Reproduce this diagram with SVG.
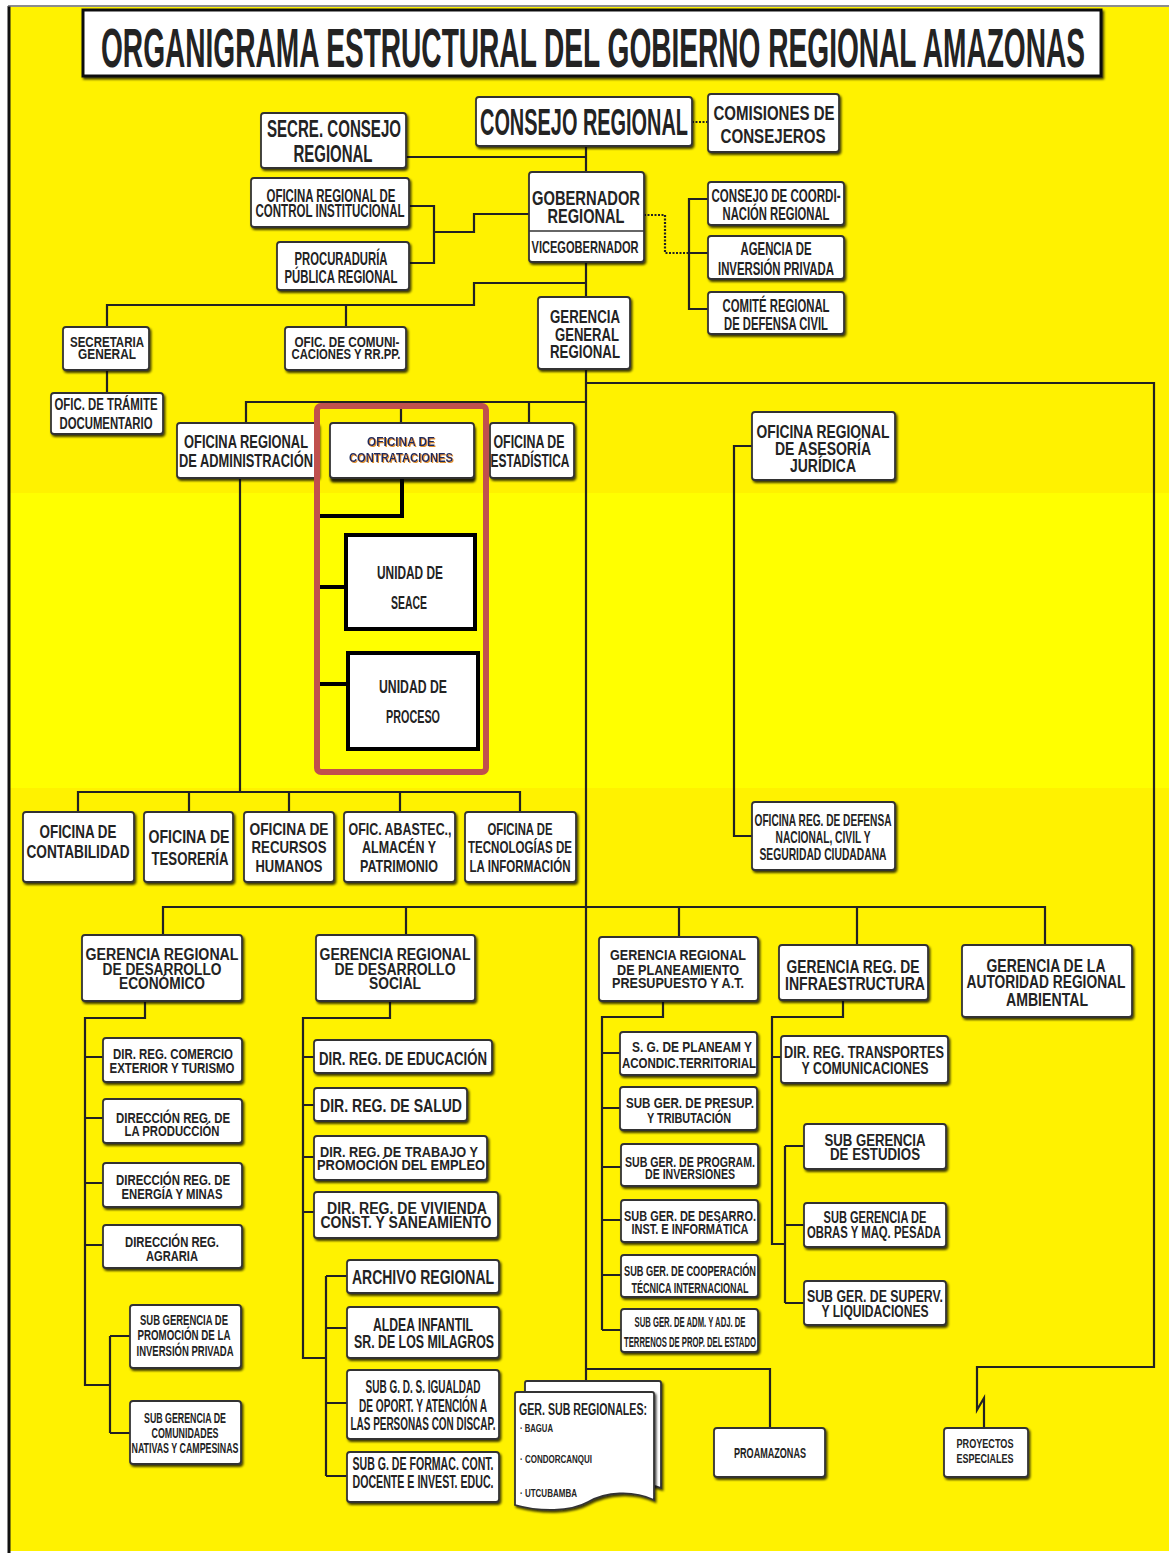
<svg xmlns="http://www.w3.org/2000/svg" width="1169" height="1553" viewBox="0 0 1169 1553">
<defs>
<filter id="sh" x="-10%" y="-10%" width="125%" height="130%"><feDropShadow dx="1.5" dy="2" stdDeviation="0.8" flood-color="#000" flood-opacity="0.75"/></filter>
<filter id="sh2" x="-10%" y="-10%" width="125%" height="140%"><feDropShadow dx="1" dy="3.5" stdDeviation="0.8" flood-color="#000" flood-opacity="0.85"/></filter>
<filter id="osh" x="-10%" y="-30%" width="120%" height="160%"><feDropShadow dx="1" dy="1" stdDeviation="0.3" flood-color="#e0902a" flood-opacity="1"/></filter>
</defs>
<style>
.b{fill:#fff;stroke:#333;stroke-width:1.8;filter:url(#sh)}
.t{font-family:'Liberation Sans Narrow','Liberation Sans',Arial,sans-serif;font-weight:bold;fill:#232323;text-anchor:middle}
.l{text-anchor:start}
.c{fill:none;stroke:#222;stroke-width:2.2}
.d{fill:none;stroke:#222;stroke-width:2.2;stroke-dasharray:2 1.5}
.k{fill:none;stroke:#000;stroke-width:4}
.u{fill:#fff;stroke:#000;stroke-width:4}
.ct{font-family:'Liberation Sans Narrow','Liberation Sans',Arial,sans-serif;font-weight:bold;fill:#1f2b5c;text-anchor:middle;filter:url(#osh)}
</style>
<rect x="0" y="0" width="1169" height="1553" fill="#fff"/>
<rect x="10" y="7" width="1159" height="1544" fill="#fff200"/>
<rect x="10" y="493" width="1159" height="295" fill="#ffff00"/>
<line x1="9" y1="6" x2="9" y2="1553" stroke="#111" stroke-width="3"/>
<line x1="8" y1="6" x2="1169" y2="6" stroke="#666" stroke-width="1.5"/>

<g id="connectors">
<path class="c" d="M586,146V172M406,157H586"/>
<path class="d" d="M692,122H708"/>
<path class="c" d="M409,206H434V263H409M434,232H474V214H529"/>
<path class="d" d="M644,215H665V253H689"/>
<path class="c" d="M708,199H689V309H708M689,253H708"/>
<path class="c" d="M586,262V297M586,283H474V305H107V327M346,305V327M107,370V393"/>
<path class="c" d="M586,369V1381M586,383H1154V1367H977V1410L984,1398V1428"/>
<path class="c" d="M246,423V402H586M401,402V423M529,402V423"/>
<path class="c" d="M240,478V792M78,812V792H520V812M189,792V812M289,792V812M400,792V812"/>
<path class="c" d="M752,446H734V836H752"/>
<path class="c" d="M163,935V907H1045V945M406,907V935M679,907V937M857,907V945"/>
<path class="c" d="M145,1001V1018H85V1385H110M110,1336V1433M110,1336H130M110,1433H130M85,1057H103M85,1118H103M85,1183H103M85,1245H103"/>
<path class="c" d="M390,1001V1018H303V1358H326M326,1276V1476M303,1057H314M303,1105H314M303,1157H314M303,1212H314M326,1276H347M326,1328H347M326,1403H347M326,1476H347"/>
<path class="c" d="M663,1001V1017H602V1330M602,1053H620M602,1108H620M602,1167H621M602,1220H621M602,1275H621M602,1330H621"/>
<path class="c" d="M843,1000V1017H772V1244H785M785,1146V1303M772,1057H781M785,1146H804M785,1225H804M785,1303H804"/>
<path class="c" d="M586,1369H770V1428"/>
<path class="k" d="M402,478V516H320M320,587H346M320,684H348"/>
</g>

<g id="title"><rect x="83" y="10" width="1018" height="66" fill="#fff" stroke="#111" stroke-width="3" filter="url(#sh)"/>
<text class="t" x="593" y="67" font-size="56" textLength="984" lengthAdjust="spacingAndGlyphs" fill="#111">ORGANIGRAMA ESTRUCTURAL DEL GOBIERNO REGIONAL AMAZONAS</text></g>

<g id="consejo"><rect class="b" x="476" y="97" width="216" height="49" rx="3"/>
<text class="t" x="584" y="135" font-size="37" textLength="208" lengthAdjust="spacingAndGlyphs">CONSEJO REGIONAL</text></g>
<g id="comisiones"><rect class="b" x="708" y="94" width="131" height="58" rx="3"/>
<text class="t" x="774" y="120" font-size="20" textLength="121" lengthAdjust="spacingAndGlyphs">COMISIONES DE</text>
<text class="t" x="773" y="143" font-size="20" textLength="105" lengthAdjust="spacingAndGlyphs">CONSEJEROS</text></g>
<g id="secre"><rect class="b" x="261" y="113" width="145" height="55" rx="3"/>
<text class="t" x="334" y="137" font-size="23" textLength="134" lengthAdjust="spacingAndGlyphs">SECRE. CONSEJO</text>
<text class="t" x="333" y="162" font-size="23" textLength="79" lengthAdjust="spacingAndGlyphs">REGIONAL</text></g>
<g id="control"><rect class="b" x="251" y="178" width="158" height="49" rx="3"/>
<text class="t" x="331" y="202" font-size="18" textLength="129" lengthAdjust="spacingAndGlyphs">OFICINA REGIONAL DE</text>
<text class="t" x="330" y="217" font-size="18" textLength="149" lengthAdjust="spacingAndGlyphs">CONTROL INSTITUCIONAL</text></g>
<g id="procuraduria"><rect class="b" x="277" y="242" width="132" height="48" rx="3"/>
<text class="t" x="341" y="265" font-size="18" textLength="93" lengthAdjust="spacingAndGlyphs">PROCURADURÍA</text>
<text class="t" x="341" y="283" font-size="18" textLength="113" lengthAdjust="spacingAndGlyphs">PÚBLICA REGIONAL</text></g>
<g id="gobernador"><rect class="b" x="529" y="172" width="115" height="90" rx="3"/>
<line x1="529" y1="231" x2="644" y2="231" stroke="#333" stroke-width="1.5"/>
<text class="t" x="586" y="205" font-size="21" textLength="108" lengthAdjust="spacingAndGlyphs">GOBERNADOR</text>
<text class="t" x="586" y="223" font-size="21" textLength="77" lengthAdjust="spacingAndGlyphs">REGIONAL</text>
<text class="t" x="585" y="253" font-size="17" textLength="107" lengthAdjust="spacingAndGlyphs">VICEGOBERNADOR</text></g>
<g id="coordinacion"><rect class="b" x="708" y="182" width="136" height="43" rx="3"/>
<text class="t" x="776" y="202" font-size="18" textLength="129" lengthAdjust="spacingAndGlyphs">CONSEJO DE COORDI-</text>
<text class="t" x="776" y="220" font-size="18" textLength="107" lengthAdjust="spacingAndGlyphs">NACIÓN REGIONAL</text></g>
<g id="agencia"><rect class="b" x="708" y="236" width="136" height="43" rx="3"/>
<text class="t" x="776" y="255" font-size="18" textLength="71" lengthAdjust="spacingAndGlyphs">AGENCIA DE</text>
<text class="t" x="776" y="275" font-size="18" textLength="116" lengthAdjust="spacingAndGlyphs">INVERSIÓN PRIVADA</text></g>
<g id="comite"><rect class="b" x="708" y="292" width="136" height="42" rx="3"/>
<text class="t" x="776" y="312" font-size="18" textLength="107" lengthAdjust="spacingAndGlyphs">COMITÉ REGIONAL</text>
<text class="t" x="776" y="330" font-size="18" textLength="104" lengthAdjust="spacingAndGlyphs">DE DEFENSA CIVIL</text></g>
<g id="gerencia-general"><rect class="b" x="538" y="297" width="92" height="72" rx="3"/>
<text class="t" x="585" y="323" font-size="18" textLength="70" lengthAdjust="spacingAndGlyphs">GERENCIA</text>
<text class="t" x="587" y="341" font-size="18" textLength="64" lengthAdjust="spacingAndGlyphs">GENERAL</text>
<text class="t" x="585" y="358" font-size="18" textLength="70" lengthAdjust="spacingAndGlyphs">REGIONAL</text></g>
<g id="secretaria-general"><rect class="b" x="63" y="327" width="86" height="43" rx="3"/>
<text class="t" x="107" y="347" font-size="14" textLength="74" lengthAdjust="spacingAndGlyphs">SECRETARIA</text>
<text class="t" x="107" y="359" font-size="14" textLength="58" lengthAdjust="spacingAndGlyphs">GENERAL</text></g>
<g id="comunicaciones"><rect class="b" x="285" y="327" width="121" height="43" rx="3"/>
<text class="t" x="347" y="347" font-size="14" textLength="105" lengthAdjust="spacingAndGlyphs">OFIC. DE COMUNI-</text>
<text class="t" x="346" y="359" font-size="14" textLength="109" lengthAdjust="spacingAndGlyphs">CACIONES Y RR.PP.</text></g>
<g id="tramite"><rect class="b" x="51" y="393" width="112" height="41" rx="3"/>
<text class="t" x="106" y="410" font-size="16" textLength="103" lengthAdjust="spacingAndGlyphs">OFIC. DE TRÁMITE</text>
<text class="t" x="106" y="429" font-size="16" textLength="93" lengthAdjust="spacingAndGlyphs">DOCUMENTARIO</text></g>
<g id="administracion"><rect class="b" x="177" y="423" width="141" height="55" rx="3"/>
<text class="t" x="246" y="448" font-size="19" textLength="124" lengthAdjust="spacingAndGlyphs">OFICINA REGIONAL</text>
<text class="t" x="246" y="467" font-size="19" textLength="134" lengthAdjust="spacingAndGlyphs">DE ADMINISTRACIÓN</text></g>
<g id="contrataciones"><rect x="330" y="423" width="144" height="55" rx="3" fill="#fff" stroke="#333" stroke-width="1.8" filter="url(#sh2)"/>
<text class="ct" x="401" y="446" font-size="12" textLength="68" lengthAdjust="spacingAndGlyphs">OFICINA DE</text>
<text class="ct" x="401" y="462" font-size="12" textLength="104" lengthAdjust="spacingAndGlyphs">CONTRATACIONES</text></g>
<g id="estadistica"><rect class="b" x="490" y="423" width="84" height="55" rx="3"/>
<text class="t" x="529" y="448" font-size="19" textLength="71" lengthAdjust="spacingAndGlyphs">OFICINA DE</text>
<text class="t" x="530" y="467" font-size="19" textLength="79" lengthAdjust="spacingAndGlyphs">ESTADÍSTICA</text></g>
<g id="marco-contrataciones"><rect x="317" y="406" width="169" height="366" rx="4" fill="none" stroke="#c0504d" stroke-width="6"/></g>
<g id="seace"><rect class="u" x="346" y="535" width="129" height="94"/>
<text class="t" x="410" y="579" font-size="19" textLength="66" lengthAdjust="spacingAndGlyphs">UNIDAD DE</text>
<text class="t" x="409" y="609" font-size="19" textLength="36" lengthAdjust="spacingAndGlyphs">SEACE</text></g>
<g id="proceso"><rect class="u" x="348" y="653" width="130" height="96"/>
<text class="t" x="413" y="693" font-size="19" textLength="68" lengthAdjust="spacingAndGlyphs">UNIDAD  DE</text>
<text class="t" x="413" y="723" font-size="19" textLength="54" lengthAdjust="spacingAndGlyphs">PROCESO</text></g>
<g id="juridica"><rect class="b" x="752" y="412" width="143" height="68" rx="3"/>
<text class="t" x="823" y="438" font-size="19" textLength="133" lengthAdjust="spacingAndGlyphs">OFICINA REGIONAL</text>
<text class="t" x="823" y="455" font-size="19" textLength="96" lengthAdjust="spacingAndGlyphs">DE ASESORÍA</text>
<text class="t" x="823" y="472" font-size="19" textLength="66" lengthAdjust="spacingAndGlyphs">JURÍDICA</text></g>
<g id="defensa"><rect class="b" x="752" y="802" width="143" height="68" rx="3"/>
<text class="t" x="823" y="826" font-size="17" textLength="137" lengthAdjust="spacingAndGlyphs">OFICINA REG. DE DEFENSA</text>
<text class="t" x="823" y="843" font-size="17" textLength="95" lengthAdjust="spacingAndGlyphs">NACIONAL, CIVIL Y</text>
<text class="t" x="823" y="860" font-size="17" textLength="127" lengthAdjust="spacingAndGlyphs">SEGURIDAD CIUDADANA</text></g>
<g id="contabilidad"><rect class="b" x="23" y="812" width="111" height="70" rx="3"/>
<text class="t" x="78" y="838" font-size="19" textLength="77" lengthAdjust="spacingAndGlyphs">OFICINA DE</text>
<text class="t" x="78" y="858" font-size="19" textLength="103" lengthAdjust="spacingAndGlyphs">CONTABILIDAD</text></g>
<g id="tesoreria"><rect class="b" x="144" y="812" width="89" height="70" rx="3"/>
<text class="t" x="189" y="843" font-size="19" textLength="81" lengthAdjust="spacingAndGlyphs">OFICINA DE</text>
<text class="t" x="190" y="865" font-size="19" textLength="77" lengthAdjust="spacingAndGlyphs">TESORERÍA</text></g>
<g id="rrhh"><rect class="b" x="244" y="812" width="90" height="70" rx="3"/>
<text class="t" x="289" y="835" font-size="17" textLength="79" lengthAdjust="spacingAndGlyphs">OFICINA DE</text>
<text class="t" x="289" y="853" font-size="17" textLength="75" lengthAdjust="spacingAndGlyphs">RECURSOS</text>
<text class="t" x="289" y="872" font-size="17" textLength="67" lengthAdjust="spacingAndGlyphs">HUMANOS</text></g>
<g id="abastecimiento"><rect class="b" x="344" y="812" width="111" height="70" rx="3"/>
<text class="t" x="400" y="835" font-size="17" textLength="103" lengthAdjust="spacingAndGlyphs">OFIC. ABASTEC.,</text>
<text class="t" x="399" y="853" font-size="17" textLength="74" lengthAdjust="spacingAndGlyphs">ALMACÉN Y</text>
<text class="t" x="399" y="872" font-size="17" textLength="78" lengthAdjust="spacingAndGlyphs">PATRIMONIO</text></g>
<g id="tecnologias"><rect class="b" x="465" y="812" width="111" height="70" rx="3"/>
<text class="t" x="520" y="835" font-size="17" textLength="65" lengthAdjust="spacingAndGlyphs">OFICINA DE</text>
<text class="t" x="520" y="853" font-size="17" textLength="104" lengthAdjust="spacingAndGlyphs">TECNOLOGÍAS DE</text>
<text class="t" x="520" y="872" font-size="17" textLength="101" lengthAdjust="spacingAndGlyphs">LA INFORMACIÓN</text></g>
<g id="gr-economico"><rect class="b" x="82" y="935" width="160" height="66" rx="3"/>
<text class="t" x="162" y="960" font-size="16" textLength="153" lengthAdjust="spacingAndGlyphs">GERENCIA REGIONAL</text>
<text class="t" x="162" y="975" font-size="16" textLength="119" lengthAdjust="spacingAndGlyphs">DE DESARROLLO</text>
<text class="t" x="162" y="989" font-size="16" textLength="86" lengthAdjust="spacingAndGlyphs">ECONÓMICO</text></g>
<g id="gr-social"><rect class="b" x="316" y="935" width="159" height="66" rx="3"/>
<text class="t" x="395" y="960" font-size="16" textLength="151" lengthAdjust="spacingAndGlyphs">GERENCIA REGIONAL</text>
<text class="t" x="395" y="975" font-size="16" textLength="121" lengthAdjust="spacingAndGlyphs">DE DESARROLLO</text>
<text class="t" x="395" y="989" font-size="16" textLength="52" lengthAdjust="spacingAndGlyphs">SOCIAL</text></g>
<g id="gr-planeamiento"><rect class="b" x="599" y="937" width="159" height="64" rx="3"/>
<text class="t" x="678" y="960" font-size="15" textLength="136" lengthAdjust="spacingAndGlyphs">GERENCIA REGIONAL</text>
<text class="t" x="678" y="975" font-size="15" textLength="122" lengthAdjust="spacingAndGlyphs">DE PLANEAMIENTO</text>
<text class="t" x="678" y="988" font-size="15" textLength="132" lengthAdjust="spacingAndGlyphs">PRESUPUESTO Y A.T.</text></g>
<g id="gr-infraestructura"><rect class="b" x="779" y="945" width="149" height="55" rx="3"/>
<text class="t" x="853" y="973" font-size="19" textLength="133" lengthAdjust="spacingAndGlyphs">GERENCIA REG. DE</text>
<text class="t" x="855" y="990" font-size="19" textLength="140" lengthAdjust="spacingAndGlyphs">INFRAESTRUCTURA</text></g>
<g id="gr-ambiental"><rect class="b" x="962" y="945" width="170" height="72" rx="3"/>
<text class="t" x="1046" y="972" font-size="19" textLength="119" lengthAdjust="spacingAndGlyphs">GERENCIA DE LA</text>
<text class="t" x="1046" y="988" font-size="19" textLength="159" lengthAdjust="spacingAndGlyphs">AUTORIDAD REGIONAL</text>
<text class="t" x="1047" y="1006" font-size="19" textLength="82" lengthAdjust="spacingAndGlyphs">AMBIENTAL</text></g>
<g id="comercio"><rect class="b" x="103" y="1038" width="139" height="44" rx="3"/>
<text class="t" x="173" y="1059" font-size="15" textLength="120" lengthAdjust="spacingAndGlyphs">DIR. REG. COMERCIO</text>
<text class="t" x="172" y="1073" font-size="15" textLength="125" lengthAdjust="spacingAndGlyphs">EXTERIOR Y TURISMO</text></g>
<g id="produccion"><rect class="b" x="103" y="1099" width="139" height="44" rx="3"/>
<text class="t" x="173" y="1123" font-size="15" textLength="114" lengthAdjust="spacingAndGlyphs">DIRECCIÓN REG. DE</text>
<text class="t" x="172" y="1136" font-size="15" textLength="95" lengthAdjust="spacingAndGlyphs">LA PRODUCCIÓN</text></g>
<g id="energia"><rect class="b" x="103" y="1163" width="139" height="44" rx="3"/>
<text class="t" x="173" y="1185" font-size="15" textLength="114" lengthAdjust="spacingAndGlyphs">DIRECCIÓN REG. DE</text>
<text class="t" x="172" y="1199" font-size="15" textLength="101" lengthAdjust="spacingAndGlyphs">ENERGÍA Y MINAS</text></g>
<g id="agraria"><rect class="b" x="103" y="1225" width="139" height="43" rx="3"/>
<text class="t" x="172" y="1247" font-size="15" textLength="94" lengthAdjust="spacingAndGlyphs">DIRECCIÓN REG.</text>
<text class="t" x="172" y="1261" font-size="15" textLength="52" lengthAdjust="spacingAndGlyphs">AGRARIA</text></g>
<g id="promocion"><rect class="b" x="130" y="1305" width="111" height="63" rx="3"/>
<text class="t" x="184" y="1325" font-size="15" textLength="88" lengthAdjust="spacingAndGlyphs">SUB GERENCIA DE</text>
<text class="t" x="184" y="1340" font-size="15" textLength="93" lengthAdjust="spacingAndGlyphs">PROMOCIÓN DE LA</text>
<text class="t" x="185" y="1356" font-size="15" textLength="97" lengthAdjust="spacingAndGlyphs">INVERSIÓN PRIVADA</text></g>
<g id="comunidades"><rect class="b" x="130" y="1401" width="111" height="63" rx="3"/>
<text class="t" x="185" y="1423" font-size="15" textLength="82" lengthAdjust="spacingAndGlyphs">SUB GERENCIA DE</text>
<text class="t" x="185" y="1438" font-size="15" textLength="67" lengthAdjust="spacingAndGlyphs">COMUNIDADES</text>
<text class="t" x="185" y="1453" font-size="15" textLength="107" lengthAdjust="spacingAndGlyphs">NATIVAS Y CAMPESINAS</text></g>
<g id="educacion"><rect class="b" x="314" y="1040" width="178" height="33" rx="3"/>
<text class="t" x="403" y="1065" font-size="18" textLength="168" lengthAdjust="spacingAndGlyphs">DIR. REG. DE EDUCACIÓN</text></g>
<g id="salud"><rect class="b" x="314" y="1088" width="153" height="33" rx="3"/>
<text class="t" x="391" y="1112" font-size="18" textLength="142" lengthAdjust="spacingAndGlyphs">DIR. REG. DE SALUD</text></g>
<g id="trabajo"><rect class="b" x="314" y="1136" width="173" height="44" rx="3"/>
<text class="t" x="399" y="1157" font-size="15" textLength="158" lengthAdjust="spacingAndGlyphs">DIR. REG. DE TRABAJO Y</text>
<text class="t" x="401" y="1170" font-size="15" textLength="168" lengthAdjust="spacingAndGlyphs">PROMOCIÓN DEL EMPLEO</text></g>
<g id="vivienda"><rect class="b" x="314" y="1192" width="184" height="46" rx="3"/>
<text class="t" x="407" y="1214" font-size="16" textLength="160" lengthAdjust="spacingAndGlyphs">DIR. REG. DE VIVIENDA</text>
<text class="t" x="406" y="1228" font-size="16" textLength="171" lengthAdjust="spacingAndGlyphs">CONST. Y SANEAMIENTO</text></g>
<g id="archivo"><rect class="b" x="347" y="1260" width="152" height="33" rx="3"/>
<text class="t" x="423" y="1284" font-size="20" textLength="142" lengthAdjust="spacingAndGlyphs">ARCHIVO REGIONAL</text></g>
<g id="aldea"><rect class="b" x="347" y="1307" width="152" height="51" rx="3"/>
<text class="t" x="423" y="1331" font-size="19" textLength="100" lengthAdjust="spacingAndGlyphs">ALDEA INFANTIL</text>
<text class="t" x="424" y="1348" font-size="19" textLength="140" lengthAdjust="spacingAndGlyphs">SR. DE LOS MILAGROS</text></g>
<g id="igualdad"><rect class="b" x="347" y="1370" width="152" height="69" rx="3"/>
<text class="t" x="423" y="1393" font-size="18" textLength="115" lengthAdjust="spacingAndGlyphs">SUB G. D. S. IGUALDAD</text>
<text class="t" x="423" y="1412" font-size="18" textLength="128" lengthAdjust="spacingAndGlyphs">DE OPORT. Y ATENCIÓN A</text>
<text class="t" x="423" y="1430" font-size="18" textLength="145" lengthAdjust="spacingAndGlyphs">LAS PERSONAS CON DISCAP.</text></g>
<g id="formacion"><rect class="b" x="347" y="1452" width="152" height="50" rx="3"/>
<text class="t" x="423" y="1470" font-size="19" textLength="141" lengthAdjust="spacingAndGlyphs">SUB G. DE FORMAC. CONT.</text>
<text class="t" x="423" y="1488" font-size="19" textLength="141" lengthAdjust="spacingAndGlyphs">DOCENTE E INVEST. EDUC.</text></g>
<g id="sg-planeam"><rect class="b" x="620" y="1032" width="137" height="43" rx="3"/>
<text class="t" x="692" y="1052" font-size="15" textLength="120" lengthAdjust="spacingAndGlyphs">S. G. DE  PLANEAM Y</text>
<text class="t" x="689" y="1068" font-size="15" textLength="134" lengthAdjust="spacingAndGlyphs">ACONDIC.TERRITORIAL</text></g>
<g id="presupuesto"><rect class="b" x="620" y="1087" width="137" height="43" rx="3"/>
<text class="t" x="690" y="1108" font-size="15" textLength="128" lengthAdjust="spacingAndGlyphs">SUB GER. DE PRESUP.</text>
<text class="t" x="689" y="1123" font-size="15" textLength="84" lengthAdjust="spacingAndGlyphs">Y TRIBUTACIÓN</text></g>
<g id="programacion"><rect class="b" x="621" y="1144" width="137" height="42" rx="3"/>
<text class="t" x="690" y="1167" font-size="14" textLength="130" lengthAdjust="spacingAndGlyphs">SUB GER. DE PROGRAM.</text>
<text class="t" x="690" y="1179" font-size="14" textLength="90" lengthAdjust="spacingAndGlyphs">DE INVERSIONES</text></g>
<g id="desarrollo-inst"><rect class="b" x="621" y="1200" width="137" height="42" rx="3"/>
<text class="t" x="690" y="1221" font-size="14" textLength="132" lengthAdjust="spacingAndGlyphs">SUB GER. DE DESARRO.</text>
<text class="t" x="690" y="1234" font-size="14" textLength="117" lengthAdjust="spacingAndGlyphs">INST. E INFORMÁTICA</text></g>
<g id="cooperacion"><rect class="b" x="621" y="1255" width="137" height="42" rx="3"/>
<text class="t" x="690" y="1276" font-size="15" textLength="132" lengthAdjust="spacingAndGlyphs">SUB GER. DE COOPERACIÓN</text>
<text class="t" x="690" y="1293" font-size="15" textLength="117" lengthAdjust="spacingAndGlyphs">TÉCNICA INTERNACIONAL</text></g>
<g id="terrenos"><rect class="b" x="621" y="1309" width="137" height="43" rx="3"/>
<text class="t" x="690" y="1327" font-size="14" textLength="111" lengthAdjust="spacingAndGlyphs">SUB GER. DE ADM. Y ADJ. DE</text>
<text class="t" x="690" y="1347" font-size="14" textLength="132" lengthAdjust="spacingAndGlyphs">TERRENOS DE PROP. DEL ESTADO</text></g>
<g id="transportes"><rect class="b" x="781" y="1036" width="167" height="47" rx="3"/>
<text class="t" x="864" y="1058" font-size="16" textLength="160" lengthAdjust="spacingAndGlyphs">DIR. REG. TRANSPORTES</text>
<text class="t" x="865" y="1074" font-size="16" textLength="127" lengthAdjust="spacingAndGlyphs">Y COMUNICACIONES</text></g>
<g id="estudios"><rect class="b" x="804" y="1124" width="142" height="45" rx="3"/>
<text class="t" x="875" y="1146" font-size="16" textLength="101" lengthAdjust="spacingAndGlyphs">SUB GERENCIA</text>
<text class="t" x="875" y="1160" font-size="16" textLength="90" lengthAdjust="spacingAndGlyphs">DE ESTUDIOS</text></g>
<g id="obras"><rect class="b" x="804" y="1203" width="142" height="44" rx="3"/>
<text class="t" x="875" y="1223" font-size="16" textLength="103" lengthAdjust="spacingAndGlyphs">SUB GERENCIA DE</text>
<text class="t" x="874" y="1238" font-size="16" textLength="134" lengthAdjust="spacingAndGlyphs">OBRAS Y MAQ. PESADA</text></g>
<g id="supervision"><rect class="b" x="804" y="1281" width="142" height="44" rx="3"/>
<text class="t" x="875" y="1302" font-size="16" textLength="136" lengthAdjust="spacingAndGlyphs">SUB GER. DE SUPERV.</text>
<text class="t" x="875" y="1317" font-size="16" textLength="107" lengthAdjust="spacingAndGlyphs">Y LIQUIDACIONES</text></g>
<g id="sub-regionales">
<path d="M527,1381H659Q661,1381 661,1383V1488C645,1482 630,1484 620,1490L527,1490Q525,1490 525,1488V1383Q525,1381 527,1381Z" fill="#fff" stroke="#333" stroke-width="1.8" filter="url(#sh)"/>
<path d="M517,1392H652Q654,1392 654,1394V1500C632,1490 606,1492 588,1502C570,1512 540,1512 515,1505V1394Q515,1392 517,1392Z" fill="#fff" stroke="#333" stroke-width="1.8" filter="url(#sh)"/>
<text class="t l" x="519" y="1415" font-size="16" textLength="128" lengthAdjust="spacingAndGlyphs">GER. SUB REGIONALES:</text>
<text class="t l" x="520" y="1432" font-size="11" textLength="33" lengthAdjust="spacingAndGlyphs">· BAGUA</text>
<text class="t l" x="520" y="1463" font-size="11" textLength="72" lengthAdjust="spacingAndGlyphs">· CONDORCANQUI</text>
<text class="t l" x="520" y="1497" font-size="11" textLength="57" lengthAdjust="spacingAndGlyphs">· UTCUBAMBA</text></g>
<g id="proamazonas"><rect class="b" x="714" y="1428" width="111" height="49" rx="3"/>
<text class="t" x="770" y="1458" font-size="14" textLength="72" lengthAdjust="spacingAndGlyphs">PROAMAZONAS</text></g>
<g id="proyectos"><rect class="b" x="944" y="1428" width="84" height="49" rx="3"/>
<text class="t" x="985" y="1448" font-size="12" textLength="57" lengthAdjust="spacingAndGlyphs">PROYECTOS</text>
<text class="t" x="985" y="1463" font-size="12" textLength="57" lengthAdjust="spacingAndGlyphs">ESPECIALES</text></g>
</svg>
